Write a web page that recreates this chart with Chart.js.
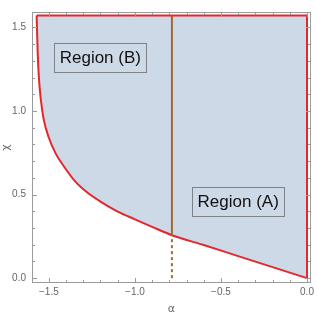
<!DOCTYPE html>
<html lang="en">
<head>
    <meta charset="UTF-8">
    <title>Regions</title>
    <script src="https://cdn.jsdelivr.net/npm/chart.js@4.4.0/dist/chart.umd.min.js"></script>
    <style>
        body { margin: 0; background: #fff; }
    </style>
</head>
<body>

    <canvas id="chart" width="317" height="316"></canvas>

    <script>
    // boundary curve (alpha, chi)
    const curveAlpha = [-1.571, -1.565, -1.558, -1.548, -1.530, -1.500, -1.460, -1.410, -1.350, -1.280, -1.200, -1.100, -1.000, -0.900, -0.785, -0.600, -0.400, -0.200, 0.0];
    const curveChi   = [ 1.571,  1.350,  1.200,  1.080,  0.950,  0.840,  0.745,  0.665,  0.582,  0.515,  0.458,  0.398,  0.352,  0.307,  0.257,  0.198,  0.132,  0.066, 0.0];

    const topChi = 1.571;      // upper edge of the region
    const leftAlpha = -1.571;  // left end of the upper edge
    const rightAlpha = 0.0;    // right edge
    const cutAlpha = -0.785;   // vertical divider
    const cutChi = 0.257;      // where divider meets the curve

    const xTicks = [-1.5, -1.0, -0.5, 0.0];
    const yTicks = [0.0, 0.5, 1.0, 1.5];

    const regionLabels = ['Region (B)', 'Region (A)'];
    const regionAlpha = [-1.201, -0.400];
    const regionChi = [1.322, 0.457];

    const curve = curveAlpha.map((a, i) => ({x: a, y: curveChi[i]}));
    const edges = [{x: leftAlpha, y: topChi}, {x: rightAlpha, y: topChi}, {x: rightAlpha, y: 0}];

    function fmt(v) {
        return (v < 0 ? '\u2212' : '') + Math.abs(v).toFixed(1);
    }

    const frame = {
        id: 'frame',
        afterDatasetsDraw(chart) {
            const {ctx, chartArea: a, scales: {x, y}} = chart;
            ctx.save();
            // region labels
            ctx.font = '17px "Liberation Sans", Arial, sans-serif';
            ctx.textAlign = 'center';
            ctx.textBaseline = 'middle';
            regionLabels.forEach((t, i) => {
                const px = x.getPixelForValue(regionAlpha[i]);
                const py = y.getPixelForValue(regionChi[i]);
                const w = ctx.measureText(t).width + 11;
                const h = 29;
                ctx.strokeStyle = '#7f8287';
                ctx.lineWidth = 1;
                ctx.strokeRect(Math.round(px - w / 2) + 0.5, Math.round(py - h / 2) + 0.5, Math.round(w), h);
                ctx.fillStyle = '#111';
                ctx.fillText(t, px, py + 1);
            });

            // frame and inward ticks
            ctx.strokeStyle = '#9a9a9a';
            ctx.lineWidth = 1;
            ctx.strokeRect(a.left + 0.5, a.top + 0.5, a.width - 1, a.height - 1);
            ctx.beginPath();
            for (let k = -16; k <= 0; k++) {
                const v = k / 10;
                const major = xTicks.some(t => Math.abs(t - v) < 1e-6);
                const len = major ? 5 : 3;
                const px = Math.round(x.getPixelForValue(v)) + 0.5;
                if (px < a.left || px > a.right) continue;
                ctx.moveTo(px, a.bottom); ctx.lineTo(px, a.bottom - len);
                ctx.moveTo(px, a.top); ctx.lineTo(px, a.top + len);
            }
            for (let k = 0; k <= 15; k++) {
                const v = k / 10;
                const major = yTicks.some(t => Math.abs(t - v) < 1e-6);
                const len = major ? 5 : 3;
                const py = Math.round(y.getPixelForValue(v)) + 0.5;
                ctx.moveTo(a.left, py); ctx.lineTo(a.left + len, py);
                ctx.moveTo(a.right, py); ctx.lineTo(a.right - len, py);
            }
            ctx.stroke();
            ctx.restore();
        }
    };

    const ctx = document.getElementById('chart').getContext('2d');
    const myChart = new Chart(ctx, {
        type: 'line',
        data: {
            datasets: [
                {
                    label: 'curve',
                    data: curve,
                    borderColor: '#e3272c',
                    borderWidth: 2,
                    backgroundColor: '#cdd9e7',
                    cubicInterpolationMode: 'monotone',
                    pointRadius: 0,
                    fill: {value: topChi},
                    order: 2
                },
                {
                    label: 'edges',
                    data: edges,
                    borderColor: '#e3272c',
                    borderWidth: 2,
                    pointRadius: 0,
                    fill: false,
                    order: 0
                },
                {
                    label: 'divider',
                    data: [{x: cutAlpha, y: cutChi}, {x: cutAlpha, y: topChi}],
                    borderColor: '#9e6a35',
                    borderWidth: 2,
                    pointRadius: 0,
                    fill: false,
                    order: 1
                },
                {
                    label: 'divider dashed',
                    data: [{x: cutAlpha, y: 0}, {x: cutAlpha, y: cutChi}],
                    borderColor: '#9e6a35',
                    borderWidth: 2,
                    borderDash: [3, 3],
                    pointRadius: 0,
                    fill: false,
                    order: 1
                }
            ]
        },
        options: {
            responsive: false,
            animation: false,
            layout: {padding: {top: 1, right: 3, left: 0, bottom: 0}},
            plugins: {
                legend: {display: false},
                tooltip: {enabled: false}
            },
            scales: {
                x: {
                    type: 'linear',
                    min: -1.598,
                    max: 0.023,
                    grid: {display: false, drawTicks: false, tickLength: 0},
                    border: {display: false},
                    afterBuildTicks: s => { s.ticks = xTicks.map(v => ({value: v})); },
                    afterFit: s => { s.height = 33; },
                    ticks: {
                        color: '#666',
                        font: {size: 10, family: 'Liberation Sans'},
                        padding: 3,
                        maxRotation: 0,
                        callback: v => fmt(v)
                    },
                    title: {
                        display: true,
                        text: 'α',
                        color: '#666',
                        font: {size: 11, family: 'DejaVu Sans'},
                        padding: {top: 0, bottom: 0}
                    }
                },
                y: {
                    type: 'linear',
                    min: -0.029,
                    max: 1.592,
                    grid: {display: false, drawTicks: false, tickLength: 0},
                    border: {display: false},
                    afterBuildTicks: s => { s.ticks = yTicks.map(v => ({value: v})); },
                    afterFit: s => { s.width = 32; },
                    ticks: {
                        color: '#666',
                        font: {size: 10, family: 'Liberation Sans'},
                        padding: 6,
                        callback: v => fmt(v)
                    },
                    title: {
                        display: true,
                        text: 'χ',
                        color: '#666',
                        font: {size: 11, family: 'DejaVu Sans'},
                        padding: {top: 0, bottom: 0}
                    }
                }
            }
        },
        plugins: [frame]
    });
    </script>
</body>
</html>
